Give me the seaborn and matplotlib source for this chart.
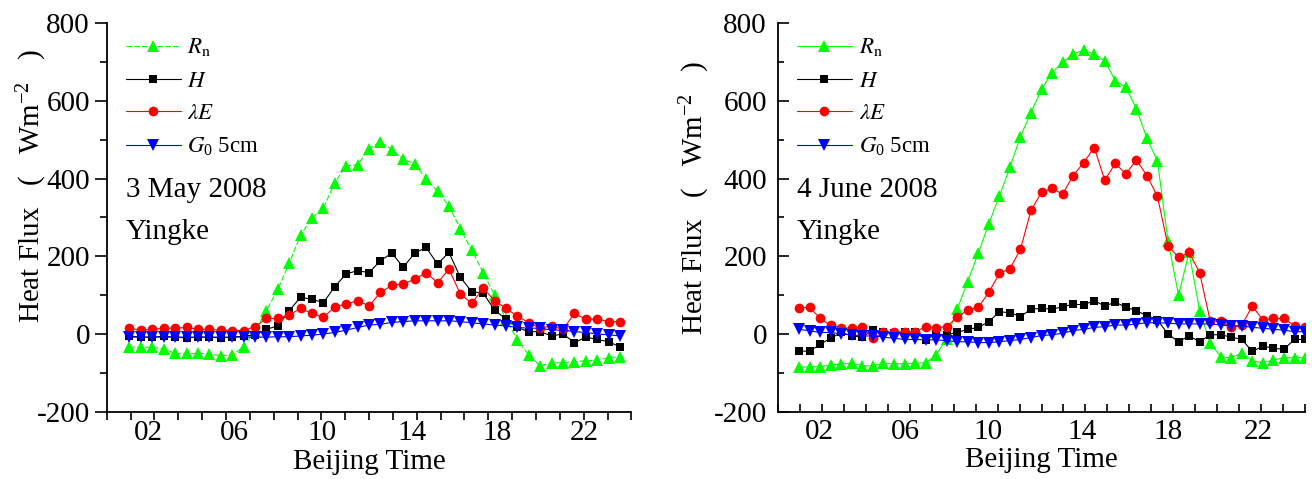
import numpy as np
import matplotlib
matplotlib.use('Agg')
import matplotlib.pyplot as plt
import seaborn as sns

# half-hourly records (h)
t_may = np.arange(1.0, 23.0, 0.5)
t_june = np.arange(1.0, 25.5, 0.5)

# 3 May 2008
rn_may = [-34, -34, -34, -39, -50, -50, -50, -51, -56, -54,
          -33, 9, 60, 115, 182, 255, 298, 324, 390, 433,
          436, 477, 495, 474, 450, 438, 400, 367, 330, 271,
          216, 158, 100, 38, -15, -54, -82, -74, -74, -71,
          -69, -67, -61, -58]
h_may = [-5, -8, -8, -6, -8, -10, -8, -8, -10, -8,
         -6, -2, 12, 21, 60, 95, 89, 81, 122, 155,
         163, 158, 189, 208, 172, 208, 223, 180, 210, 146,
         109, 105, 62, 38, 17, 6, 6, -5, 0, -22,
         -8, -14, -20, -33]
le_may = [15, 10, 12, 15, 15, 17, 12, 12, 10, 9,
          9, 19, 40, 40, 49, 66, 53, 43, 70, 77,
          86, 72, 107, 125, 129, 141, 158, 132, 167, 103,
          79, 118, 86, 66, 46, 29, 15, 21, 12, 53,
          38, 38, 32, 32]
g0_may = [-8, -8, -8, -8, -8, -8, -8, -8, -8, -8,
          -8, -8, -8, -7, -7, -5, -3, 0, 4, 10,
          17, 23, 25, 30, 32, 34, 34, 34, 34, 32,
          29, 26, 23, 21, 17, 15, 15, 10, 10, 6,
          4, 0, -2, -5]

# 4 June 2008
rn_june = [-86, -84, -84, -80, -77, -75, -82, -82, -75, -77,
           -77, -75, -74, -54, -12, 64, 135, 208, 284, 355,
           429, 508, 570, 630, 673, 699, 721, 730, 721, 703,
           652, 635, 580, 504, 445, 240, 100, 210, 60, -24,
           -58, -62, -48, -69, -74, -67, -61, -61, -61]
h_june = [-43, -45, -26, -11, 4, -5, -8, 10, 4, 2,
          5, 6, -15, 0, -2, 4, 12, 17, 32, 57,
          55, 45, 64, 66, 64, 70, 77, 75, 86, 72,
          82, 69, 60, 47, 36, 0, -20, -5, -20, -2,
          -2, -8, -14, -45, -31, -37, -39, -14, -14]
le_june = [68, 69, 40, 22, 15, 15, 17, -11, 4, 5,
           6, 5, 19, 16, 19, 43, 62, 69, 107, 156,
           168, 218, 318, 365, 375, 360, 408, 441, 480, 396,
           439, 412, 448, 408, 354, 227, 197, 210, 158, 34,
           34, 17, 23, 72, 36, 40, 40, 21, 17]
g0_june = [12, 8, 4, 4, 0, -2, -5, -5, -8, -11,
           -14, -14, -15, -15, -17, -20, -20, -22, -22, -20,
           -17, -14, -9, -4, -2, 2, 9, 12, 17, 19,
           23, 23, 26, 29, 29, 28, 26, 26, 26, 26,
           23, 21, 21, 17, 15, 12, 10, 6, 6]

hour_labels = ['02', '06', '10', '14', '18', '22']
labels = [r'$\mathit{R}_{\mathrm{n}}$', r'$\mathit{H}$',
          r'$\mathit{\lambda E}$', r'$\mathit{G}_{0}$ 5cm']
colors = ['#00ff00', 'black', 'red', 'blue']
markers = ['^', 's', 'o', 'v']
msizes = [8, 6, 7, 8]

sns.set_style('ticks')
plt.rcParams['font.family'] = ['Liberation Serif', 'DejaVu Serif']
plt.rcParams['mathtext.fontset'] = 'stix'
plt.rcParams['mathtext.default'] = 'regular'
plt.rcParams['axes.unicode_minus'] = False
for key in ['text.color', 'axes.labelcolor', 'xtick.color', 'ytick.color', 'axes.edgecolor']:
    plt.rcParams[key] = 'black'

fig = plt.figure(figsize=(13.12, 4.79), dpi=100)
ax1 = fig.add_axes([0.0813, 0.1405, 0.400, 0.811])
ax2 = fig.add_axes([0.593, 0.1405, 0.4017, 0.811])


def draw_panel(ax, t, series, xmax, ticks_at, date, tick_dir, n_minor, green_ls):
    for i, vals in enumerate(series):
        ls = green_ls if i == 0 else '-'
        sns.lineplot(x=t, y=vals, ax=ax, color=colors[i], marker=markers[i],
                     markersize=msizes[i], markeredgewidth=0, linewidth=0.8,
                     linestyle=ls, label=labels[i])

    ax.set_xlim(0, xmax)
    ax.set_ylim(-200, 800)
    ax.set_yticks([-200, 0, 200, 400, 600, 800])
    ax.set_yticks(np.arange(-100, 800, 200), minor=True)
    ax.set_xticks(ticks_at)
    ax.set_xticklabels(hour_labels)
    ax.set_xticks(np.linspace(0, xmax, n_minor + 1), minor=True)
    sns.despine(ax=ax)
    for s in ['left', 'bottom']:
        ax.spines[s].set_linewidth(1.3)

    if tick_dir == 'out':
        ax.tick_params(axis='y', which='major', direction='out', length=9, width=1.2, labelsize=21, pad=3)
        ax.tick_params(axis='y', which='minor', direction='out', length=5, width=1.2)
        ax.tick_params(axis='x', which='major', length=0, labelsize=21, pad=6)
        ax.tick_params(axis='x', which='minor', direction='out', length=6, width=1.2)
    else:
        ax.tick_params(axis='y', which='major', direction='in', length=8, width=1.2, labelsize=21, pad=8)
        ax.tick_params(axis='y', which='minor', direction='in', length=4, width=1.2)
        ax.tick_params(axis='x', which='major', length=0, labelsize=21, pad=5)
        ax.tick_params(axis='x', which='minor', direction='in', length=6, width=1.2)

    ax.set_xlabel('Beijing Time', fontsize=21, labelpad=2)
    ax.set_ylabel('Heat Flux   (   Wm$^{-2}$   )', fontsize=21)

    ax.legend(loc='upper left', bbox_to_anchor=(0.036, 0.965), frameon=False,
              fontsize=16.5, handlelength=2.4, handletextpad=0.3,
              labelspacing=0.5, borderpad=0, borderaxespad=0)

    ax.text(0.036, 0.571, date, transform=ax.transAxes, fontsize=21, va='center', ha='left')
    ax.text(0.036, 0.463, 'Yingke', transform=ax.transAxes, fontsize=21, va='center', ha='left')


draw_panel(ax1, t_may, [rn_may, h_may, le_may, g0_may], 23,
           [1.81, 5.58, 9.42, 13.37, 17.09, 20.95], '3 May 2008', 'out', 22, (0, (5, 2)))
draw_panel(ax2, t_june, [rn_june, h_june, le_june, g0_june], 25,
           [1.94, 6.02, 9.96, 14.42, 18.5, 22.77], '4 June 2008', 'in', 24, '-')

ax1.yaxis.set_label_coords(-0.11, 0.58)
ax2.yaxis.set_label_coords(-0.125, 0.55)

fig.savefig('out.png', dpi=100)
